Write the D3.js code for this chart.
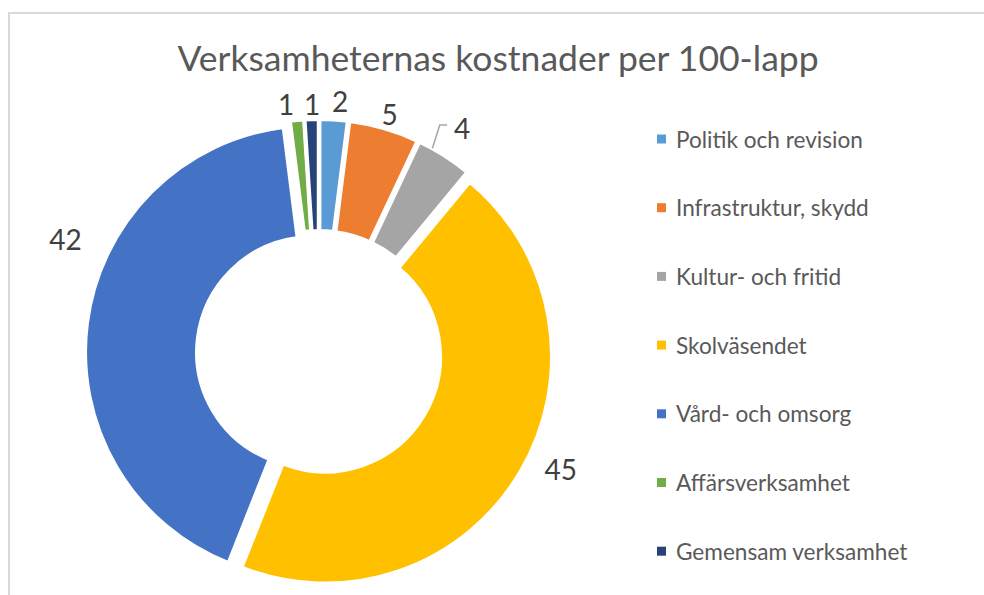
<!DOCTYPE html>
<html>
<head>
<meta charset="utf-8">
<script src="https://cdn.jsdelivr.net/npm/d3@7/dist/d3.min.js"></script>
<style>
  body { margin: 0; background: #fff; }
  svg text { font-family: Lato, "Open Sans", sans-serif; }
  .title { fill: #595959; font-size: 35.5px; }
  .label { fill: #404040; font-size: 28px; }
  .legend text { fill: #595959; font-size: 22.6px; }
</style>
</head>
<body>
<script>
// data
var categories = ["Politik och revision", "Infrastruktur, skydd", "Kultur- och fritid",
  "Skolväsendet", "Vård- och omsorg", "Affärsverksamhet", "Gemensam verksamhet"];
var values = [2, 5, 4, 45, 42, 1, 1];
var colors = ["#5B9BD5", "#ED7D31", "#A5A5A5", "#FFC000", "#4472C4", "#70AD47", "#264478"];
var title = "Verksamheternas kostnader per 100-lapp";

// label placement (degrees nudge from slice middle, radius from centre)
var labelLayout = [
  { da: 1.2, r: 253 }, { da: 0.3, r: 249 }, { da: 0, r: 267, leader: true },
  { da: -5, r: 268 }, { da: 17, r: 278 }, { da: -2.1, r: 251 }, { da: 0.2, r: 249 }
];

var width = 984, height = 595;
var cx = 319, cy = 353;
var outerR = 227, innerR = 115, explode = 7;

var svg = d3.select("body").append("svg")
    .attr("width", width)
    .attr("height", height);

// chart frame
svg.append("rect")
    .attr("x", 9).attr("y", 13)
    .attr("width", width).attr("height", height)
    .attr("fill", "none")
    .attr("stroke", "#d9d9d9")
    .attr("stroke-width", 2);

svg.append("text")
    .attr("class", "title")
    .attr("x", 498)
    .attr("y", 71)
    .attr("text-anchor", "middle")
    .text(title);

var pie = d3.pie().sort(null).value(function(d) { return d; });
var arcs = pie(values);
var arc = d3.arc().innerRadius(innerR).outerRadius(outerR);

function polar(a, r) {
  return [cx + r * Math.sin(a), cy - r * Math.cos(a)];
}

var g = svg.append("g");

g.selectAll("path")
  .data(arcs)
  .enter().append("path")
    .attr("d", arc)
    .attr("fill", function(d, i) { return colors[i]; })
    .attr("stroke", "#fff")
    .attr("stroke-width", 4)
    .attr("stroke-linejoin", "round")
    .attr("transform", function(d) {
      var mid = (d.startAngle + d.endAngle) / 2;
      var p = polar(mid, explode);
      return "translate(" + p[0] + "," + p[1] + ")";
    });

// data labels
arcs.forEach(function(d, i) {
  var mid = (d.startAngle + d.endAngle) / 2;
  var lay = labelLayout[i];
  var p = polar(mid + lay.da * Math.PI / 180, lay.r);
  if (lay.leader) {
    var p0 = polar(mid - 3.4 * Math.PI / 180, outerR + explode);
    var p1 = polar(mid - 4.5 * Math.PI / 180, outerR + 31);
    svg.append("polyline")
      .attr("points", [p0, p1, [p[0] - 15, p1[1]]].map(function(q) { return q.join(","); }).join(" "))
      .attr("fill", "none")
      .attr("stroke", "#a6a6a6")
      .attr("stroke-width", 1.5);
  }
  svg.append("text")
    .attr("class", "label")
    .attr("x", p[0])
    .attr("y", p[1])
    .attr("text-anchor", "middle")
    .attr("dominant-baseline", "central")
    .text(d.data);
});

// legend
var legend = svg.append("g").attr("class", "legend");
var item = legend.selectAll("g")
  .data(categories)
  .enter().append("g")
    .attr("transform", function(d, i) { return "translate(657," + (139 + i * 68.7) + ")"; });

item.append("rect")
    .attr("x", 0).attr("y", -4.5)
    .attr("width", 9).attr("height", 9)
    .attr("fill", function(d, i) { return colors[i]; });

item.append("text")
    .attr("x", 19)
    .attr("y", 0)
    .attr("dominant-baseline", "central")
    .text(function(d) { return d; });
</script>
</body>
</html>
